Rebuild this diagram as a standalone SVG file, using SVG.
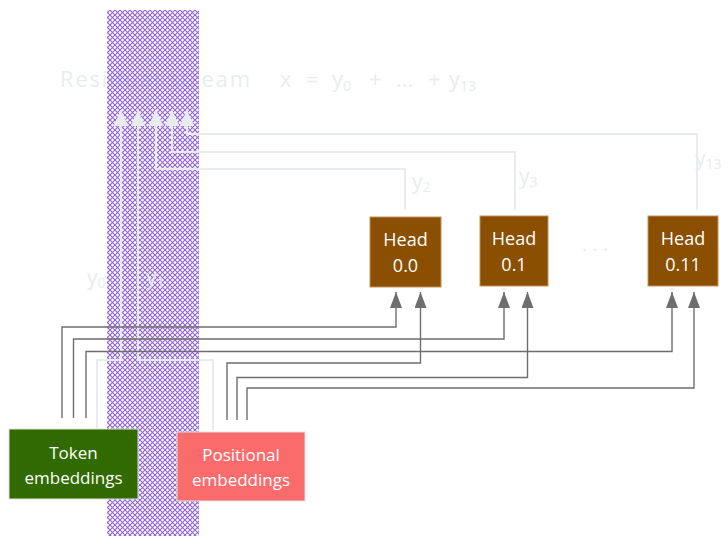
<svg xmlns="http://www.w3.org/2000/svg" width="728" height="544" viewBox="0 0 728 544">
<defs>
<pattern id="hatch" width="5" height="5" patternUnits="userSpaceOnUse">
<path d="M-1,6 L6,-1 M-1,1 L1,-1 M4,6 L6,4" stroke="#9266d6" stroke-width="1.2" fill="none"/>
<path d="M-1,-1 L6,6 M-1,4 L1,6 M4,-1 L6,1" stroke="#9266d6" stroke-width="1.2" fill="none"/>
</pattern>
<marker id="ad" viewBox="0 0 16 12" refX="16" refY="6" markerWidth="16" markerHeight="12" markerUnits="userSpaceOnUse" orient="auto">
<path d="M0,0 L16,6 L0,12 Z" fill="#6e6e6e"/>
</marker>
<marker id="al" viewBox="0 0 16 15" refX="16" refY="7.5" markerWidth="16" markerHeight="15" markerUnits="userSpaceOnUse" orient="auto">
<path d="M0,0 L16,7.5 L0,15 Z" fill="#e9ecef"/>
</marker>
</defs>
<style>
.t{font-family:"Open Sans","Liberation Sans",sans-serif;fill:#ffffff;text-anchor:middle}
.lt{font-family:"Open Sans","Liberation Sans",sans-serif;fill:#e9ecef}
.dk{fill:none;stroke:#6e6e6e;stroke-width:1.4}
.lg{fill:none;stroke:#e9ecef;stroke-width:2}
.head{fill:#8a4f00;stroke:#c8925a;stroke-width:1}
</style>
<rect width="728" height="544" fill="#ffffff"/>

<g id="residual-label">
<text class="lt" x="60" y="87" font-size="22" textLength="190" lengthAdjust="spacing">Residual stream</text>
<text class="lt" x="280" y="87" font-size="22">x</text>
<text class="lt" x="306" y="87" font-size="22">=</text>
<text class="lt" x="332" y="87" font-size="22">y<tspan font-size="14" dy="4">0</tspan></text>
<text class="lt" x="369" y="87" font-size="22">+</text>
<text class="lt" x="396" y="87" font-size="22">...</text>
<text class="lt" x="428" y="87" font-size="22">+</text>
<text class="lt" x="449" y="87" font-size="22">y<tspan font-size="14" dy="4">13</tspan></text>
</g>

<g id="residual-stream">
<rect x="107" y="10" width="92" height="526" fill="url(#hatch)"/>
</g>

<g id="connectors">
<polyline class="lg" points="97,428 97,360 121,360 121,110" marker-end="url(#al)"/>
<polyline class="lg" points="213,430 213,360 138,360 138,110" marker-end="url(#al)"/>
<polyline class="lg" points="405,210 405,169 156,169 156,110" marker-end="url(#al)"/>
<polyline class="lg" points="515,210 515,152 172,152 172,110" marker-end="url(#al)"/>
<polyline class="lg" points="697,210 697,134 187,134 187,110" marker-end="url(#al)"/>

<polyline class="dk" points="62,418 62,327 396,327 396,292" marker-end="url(#ad)"/>
<polyline class="dk" points="73.5,418 73.5,339 504,339 504,292" marker-end="url(#ad)"/>
<polyline class="dk" points="86,418 86,351.5 672,351.5 672,292" marker-end="url(#ad)"/>
<polyline class="dk" points="227,420 227,363 420.5,363 420.5,292" marker-end="url(#ad)"/>
<polyline class="dk" points="237,420 237,377.5 527.5,377.5 527.5,292" marker-end="url(#ad)"/>
<polyline class="dk" points="247,420 247,388 694,388 694,292" marker-end="url(#ad)"/>
</g>

<g id="labels">
<text class="lt" x="87" y="285" font-size="21">y<tspan font-size="14" dy="3">0</tspan></text>
<text class="lt" x="146" y="285" font-size="21">y<tspan font-size="14" dy="3">1</tspan></text>
<text class="lt" x="412" y="189" font-size="21">y<tspan font-size="14" dy="3">2</tspan></text>
<text class="lt" x="519" y="184" font-size="21">y<tspan font-size="14" dy="3">3</tspan></text>
<text class="lt" x="695" y="166" font-size="21">y<tspan font-size="14" dy="3">13</tspan></text>
<text class="lt" x="595" y="257" font-size="20" text-anchor="middle">·  ·  ·</text>
</g>

<g id="head-0-0">
<rect class="head" x="370" y="217" width="71" height="70"/>
<text class="t" x="405.5" y="246" font-size="18">Head</text>
<text class="t" x="405.5" y="272" font-size="18">0.0</text>
</g>
<g id="head-0-1">
<rect class="head" x="480" y="216" width="68" height="70"/>
<text class="t" x="514" y="245" font-size="18">Head</text>
<text class="t" x="514" y="271" font-size="18">0.1</text>
</g>
<g id="head-0-11">
<rect class="head" x="648" y="216" width="70" height="70"/>
<text class="t" x="683" y="245" font-size="18">Head</text>
<text class="t" x="683" y="271" font-size="18">0.11</text>
</g>

<g id="token-embeddings">
<rect x="9" y="429" width="129" height="70" fill="#316b00" stroke="#e0e0e0" stroke-width="1"/>
<text class="t" x="73.5" y="459" font-size="17">Token</text>
<text class="t" x="73.5" y="484" font-size="17">embeddings</text>
</g>
<g id="positional-embeddings">
<rect x="177" y="432" width="128" height="69" fill="#fa6b6b" stroke="#e0e0e0" stroke-width="1"/>
<text class="t" x="241" y="461" font-size="17">Positional</text>
<text class="t" x="241" y="486" font-size="17">embeddings</text>
</g>
</svg>
